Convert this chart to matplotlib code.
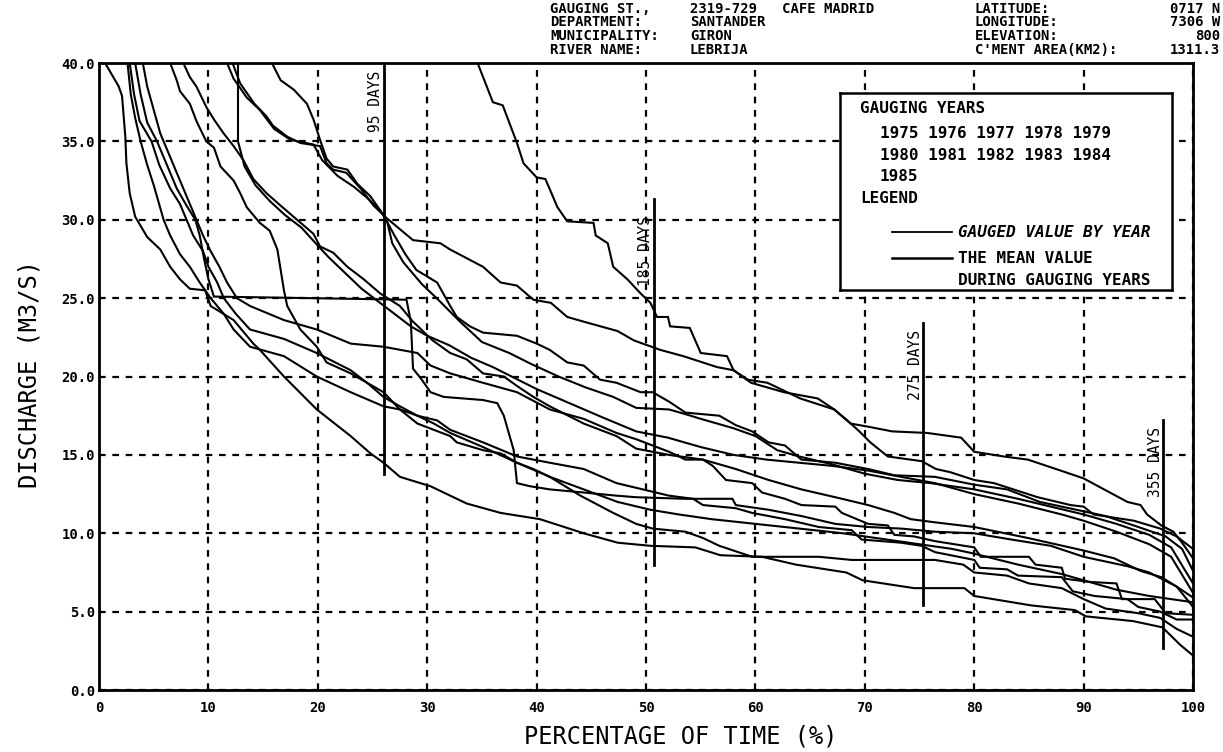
import matplotlib
matplotlib.use("Agg")
import matplotlib.pyplot as plt

# flow duration curves: (percentage of time, discharge m3/s)
curve_a = [(34.6, 40.0), (36.0, 37.5), (36.9, 37.3), (38.2, 34.9), (38.8, 33.6), (40.0, 32.7), (40.8, 32.6),
           (41.9, 30.8), (42.8, 29.9), (45.2, 29.8), (45.4, 29.0), (46.5, 28.5), (47.0, 27.0), (48.3, 26.2),
           (49.5, 25.3), (50.4, 24.7), (51.0, 23.8), (52.0, 23.8), (52.2, 23.2), (54.0, 23.1), (55.0, 21.5),
           (57.4, 21.3), (58.0, 20.4), (59.3, 19.8), (61.1, 19.6), (62.6, 19.1), (64.1, 18.6), (67.2, 17.9),
           (68.7, 17.0), (70.3, 16.8), (72.5, 16.5), (75.7, 16.4), (78.8, 16.1), (80.0, 15.2), (82.7, 14.9),
           (84.9, 14.7), (87.9, 14.0), (90.0, 13.5), (91.6, 12.9), (94.0, 12.0), (95.2, 11.8), (95.8, 11.2),
           (97.1, 10.5), (98.2, 10.1), (99.1, 9.3), (100.0, 8.4)]
curve_b = [(12.2, 40.0), (12.9, 38.7), (14.2, 37.4), (15.3, 36.6), (15.9, 36.0), (17.2, 35.3), (18.4, 34.9),
           (20.2, 34.7), (20.8, 33.6), (21.4, 33.2), (22.6, 33.0), (23.9, 32.0), (25.1, 30.9), (26.3, 30.1),
           (27.5, 29.4), (28.7, 28.7), (31.2, 28.5), (32.1, 28.1), (35.1, 27.0), (36.7, 26.0), (38.2, 25.8),
           (39.7, 24.9), (41.3, 24.7), (42.8, 23.8), (44.3, 23.5), (47.4, 22.9), (48.9, 22.3), (51.3, 21.7),
           (53.4, 21.3), (56.5, 20.6), (58.0, 20.4), (59.6, 19.6), (62.6, 19.0), (65.7, 18.6), (67.2, 17.9),
           (68.4, 17.2), (69.5, 16.5), (70.5, 15.8), (72.1, 14.9), (75.2, 14.6), (76.5, 14.1), (77.8, 13.9),
           (80.0, 13.4), (81.8, 13.2), (85.8, 12.3), (88.8, 11.8), (90.0, 11.7), (90.9, 11.2), (94.6, 10.8),
           (97.0, 10.3), (98.5, 9.8), (100.0, 9.0)]
curve_c = [(11.7, 40.0), (12.3, 39.0), (13.5, 37.8), (14.7, 37.0), (16.0, 35.8), (17.5, 35.1), (19.6, 34.8),
           (20.4, 33.8), (21.8, 32.8), (23.3, 32.1), (24.5, 31.4), (25.7, 30.6), (26.3, 29.9), (27.0, 29.0),
           (28.0, 27.8), (29.0, 26.8), (30.9, 26.0), (32.1, 24.5), (32.7, 23.8), (33.9, 23.2), (35.1, 22.8),
           (38.2, 22.6), (40.0, 22.1), (41.2, 21.7), (42.8, 20.9), (44.3, 20.7), (45.8, 19.8), (47.3, 19.6),
           (49.5, 19.0), (50.6, 19.0), (52.1, 18.4), (53.6, 17.7), (56.7, 17.5), (58.2, 16.9), (59.7, 16.5),
           (61.2, 15.8), (62.7, 15.6), (64.2, 14.7), (67.3, 14.5), (70.3, 14.1), (72.7, 13.7), (76.4, 13.6),
           (80.0, 13.1), (83.0, 12.8), (86.0, 12.0), (90.0, 11.4), (92.0, 11.1), (95.0, 10.4), (97.5, 9.8),
           (99.0, 9.0), (100.0, 7.6)]
curve_d = [(15.8, 40.0), (16.6, 38.9), (17.8, 38.3), (19.0, 37.4), (19.6, 36.4), (20.2, 35.1), (20.8, 33.9),
           (21.4, 33.4), (22.7, 33.2), (23.6, 32.3), (24.8, 31.5), (25.7, 30.6), (26.3, 30.0), (26.8, 28.5),
           (27.8, 27.3), (29.5, 25.9), (31.0, 24.9), (33.0, 23.5), (35.0, 22.2), (37.5, 21.5), (39.5, 20.8),
           (42.0, 20.0), (44.5, 19.3), (47.0, 18.7), (49.1, 18.0), (52.1, 17.9), (53.6, 17.6), (55.0, 17.3),
           (58.0, 16.7), (60.0, 16.2), (62.0, 15.3), (64.0, 14.9), (67.0, 14.4), (70.0, 13.8), (73.0, 13.4),
           (76.0, 13.2), (78.0, 13.0), (80.0, 12.8), (84.0, 12.2), (87.0, 11.7), (90.0, 11.2), (93.0, 10.6),
           (96.0, 9.9), (98.0, 9.1), (100.0, 6.8)]
curve_e = [(6.5, 40.0), (7.1, 38.9), (7.4, 38.2), (8.3, 37.4), (8.9, 36.3), (9.8, 35.0), (10.5, 34.6),
           (11.1, 33.4), (12.3, 32.5), (12.9, 31.7), (13.5, 30.8), (14.7, 29.8), (15.6, 29.3), (16.3, 28.1),
           (16.6, 26.8), (16.9, 25.5), (17.2, 24.5), (18.4, 23.0), (19.9, 21.9), (20.8, 20.9), (23.0, 20.2),
           (24.5, 19.6), (26.0, 18.7), (27.5, 18.1), (29.1, 17.5), (30.6, 17.0), (32.1, 16.4), (35.1, 15.5),
           (38.2, 14.5), (41.2, 13.6), (44.3, 12.8), (47.4, 12.0), (50.4, 11.5), (53.0, 11.2), (56.0, 10.9),
           (60.0, 10.6), (64.0, 10.3), (68.0, 10.0), (72.0, 9.6), (75.0, 9.3), (78.0, 9.0), (80.0, 8.7),
           (84.0, 8.0), (88.0, 7.4), (90.0, 7.0), (93.0, 6.4), (96.0, 6.0), (98.0, 5.8), (100.0, 5.6)]
curve_f = [(4.0, 40.0), (4.4, 38.5), (5.0, 37.0), (5.6, 35.5), (6.2, 34.5), (7.1, 33.0), (8.0, 31.5),
           (8.9, 30.0), (9.5, 29.0), (10.2, 28.0), (11.0, 27.0), (11.7, 26.0), (12.6, 25.0), (13.8, 24.5),
           (16.9, 23.6), (19.9, 23.0), (23.0, 22.1), (26.0, 21.9), (29.1, 21.5), (30.3, 20.7), (32.1, 20.2),
           (35.1, 19.6), (38.2, 19.0), (41.2, 17.9), (44.3, 17.3), (47.3, 16.4), (49.1, 16.0), (52.1, 15.2),
           (53.6, 14.7), (55.2, 14.7), (56.1, 14.3), (57.3, 13.4), (59.7, 13.2), (60.6, 12.6), (62.7, 12.2),
           (64.2, 11.8), (67.3, 11.7), (67.9, 11.3), (70.3, 10.6), (72.1, 10.5), (72.7, 9.9), (74.5, 9.8),
           (76.4, 9.5), (80.0, 9.1), (80.6, 8.5), (85.0, 8.5), (85.6, 8.0), (88.0, 7.8), (88.3, 7.1),
           (90.5, 6.9), (93.0, 6.8), (93.5, 5.8), (96.5, 5.8), (97.5, 4.9), (100.0, 4.8)]
curve_g = [(7.7, 40.0), (8.3, 39.1), (8.9, 38.5), (9.8, 37.2), (10.5, 36.4), (11.4, 35.5), (12.3, 34.7),
           (13.2, 33.8), (14.1, 32.6), (15.3, 31.7), (16.6, 30.9), (18.1, 30.0), (19.6, 29.1), (20.2, 28.3),
           (21.4, 27.9), (22.7, 27.0), (24.2, 26.2), (25.7, 25.3), (27.5, 24.5), (28.7, 23.5), (30.5, 22.3),
           (32.1, 21.5), (33.6, 21.1), (35.1, 20.2), (37.0, 20.0), (38.2, 19.4), (39.7, 18.7), (41.2, 18.1),
           (44.3, 17.0), (47.3, 16.2), (49.1, 15.4), (52.1, 15.0), (55.2, 14.7), (58.2, 14.1), (61.2, 13.4),
           (64.2, 12.8), (67.3, 12.3), (70.3, 11.8), (72.7, 11.3), (74.2, 10.9), (76.4, 10.7), (80.0, 10.4),
           (84.9, 9.7), (90.0, 8.9), (92.8, 8.4), (95.2, 7.6), (97.1, 7.2), (98.5, 6.6), (100.0, 5.9)]
curve_h = [(2.8, 40.0), (3.2, 38.0), (3.7, 36.3), (4.8, 35.0), (5.5, 33.5), (6.5, 32.0), (7.4, 31.0),
           (8.0, 30.0), (8.6, 29.0), (9.5, 28.0), (10.0, 27.0), (10.8, 26.0), (11.4, 25.0), (12.5, 24.0),
           (13.8, 23.0), (16.9, 22.4), (19.9, 21.5), (23.0, 20.4), (24.5, 19.6), (26.0, 19.0), (27.5, 17.9),
           (29.1, 17.5), (30.9, 17.2), (32.1, 16.6), (33.6, 16.2), (35.1, 15.8), (38.2, 14.9), (41.2, 14.5),
           (44.3, 14.1), (47.3, 13.2), (49.1, 12.9), (52.1, 12.4), (54.3, 12.2), (55.2, 11.8), (58.2, 11.6),
           (59.7, 11.3), (62.7, 10.9), (65.8, 10.4), (68.8, 10.2), (69.7, 9.6), (73.3, 9.4), (75.2, 9.2),
           (76.4, 8.8), (80.0, 8.3), (80.5, 7.8), (83.0, 7.7), (84.0, 7.3), (88.0, 7.2), (89.0, 6.3),
           (91.0, 6.0), (94.0, 5.8), (95.0, 5.3), (97.0, 5.0), (98.5, 4.5), (100.0, 4.5)]
curve_i = [(3.3, 40.0), (3.8, 38.0), (4.4, 36.2), (5.3, 35.0), (6.2, 33.5), (7.1, 32.0), (8.0, 30.9),
           (8.8, 30.0), (9.2, 29.0), (9.6, 27.5), (10.0, 26.2), (10.5, 25.1), (28.1, 24.9), (28.5, 23.5),
           (28.7, 20.5), (29.5, 19.8), (30.3, 19.0), (31.5, 18.7), (35.1, 18.5), (36.4, 18.3), (37.0, 17.5),
           (37.9, 15.3), (38.2, 13.2), (39.4, 13.0), (41.2, 12.8), (44.3, 12.6), (47.3, 12.4), (49.1, 12.3),
           (53.6, 12.2), (57.9, 12.2), (58.2, 11.8), (61.2, 11.5), (64.2, 11.1), (67.3, 10.6), (70.3, 10.4),
           (73.3, 10.3), (76.4, 10.1), (80.0, 10.0), (83.4, 9.6), (87.0, 9.2), (90.0, 8.5), (94.0, 7.9),
           (96.0, 7.5), (98.5, 6.6), (100.0, 5.3)]
curve_j = [(2.6, 40.0), (2.9, 38.0), (3.3, 36.5), (3.8, 35.0), (4.4, 33.5), (5.0, 32.2), (5.9, 30.0),
           (6.5, 29.0), (7.4, 27.8), (8.3, 27.0), (9.2, 26.0), (10.2, 25.0), (11.4, 24.0), (12.3, 23.0),
           (13.8, 21.9), (16.9, 21.3), (19.9, 20.0), (23.0, 19.0), (26.0, 18.1), (27.5, 17.9), (29.1, 17.0),
           (30.6, 16.6), (32.1, 16.2), (32.7, 15.8), (35.1, 15.3), (36.7, 15.1), (38.2, 14.5), (39.7, 14.1),
           (41.2, 13.6), (44.0, 12.4), (47.0, 11.3), (49.1, 10.6), (50.6, 10.3), (53.6, 10.1), (55.2, 9.7),
           (56.7, 9.2), (59.7, 8.5), (65.8, 8.5), (68.8, 8.3), (70.3, 8.3), (76.4, 8.3), (79.0, 8.0),
           (80.0, 7.5), (83.0, 7.3), (85.0, 6.8), (88.0, 6.5), (90.0, 5.8), (92.0, 5.2), (95.0, 4.9),
           (97.0, 4.6), (98.5, 3.9), (100.0, 3.4)]
curve_k = [(0.55, 40.0), (1.8, 38.5), (2.1, 37.9), (2.4, 35.3), (2.5, 33.6), (2.8, 31.7), (3.3, 30.2),
           (4.4, 28.9), (5.6, 28.1), (6.5, 27.0), (7.4, 26.2), (8.3, 25.6), (9.7, 25.5), (10.2, 24.5),
           (12.3, 23.6), (14.1, 22.1), (14.7, 21.7), (16.9, 20.0), (19.9, 17.9), (23.0, 16.2), (24.8, 15.1),
           (26.0, 14.5), (27.5, 13.6), (30.3, 13.0), (33.6, 11.9), (36.7, 11.3), (40.3, 10.9), (44.3, 10.0),
           (47.4, 9.4), (50.4, 9.2), (54.5, 9.1), (56.8, 8.6), (60.6, 8.5), (63.7, 8.0), (68.3, 7.5),
           (69.8, 7.0), (74.5, 6.5), (79.1, 6.5), (80.0, 6.0), (85.2, 5.4), (89.2, 5.1), (90.2, 4.7),
           (94.5, 4.4), (97.2, 4.0), (98.8, 2.9), (100.0, 2.2)]
curve_l = [(12.7, 40.0), (12.7, 35.0), (13.3, 33.4), (14.3, 32.2), (15.6, 31.2), (17.0, 30.3), (18.5, 29.5),
           (19.8, 28.5), (21.0, 27.6), (22.5, 26.6), (24.0, 25.6), (25.5, 24.8), (27.0, 24.0), (28.5, 23.2),
           (30.0, 22.6), (32.0, 22.0), (34.0, 21.2), (36.0, 20.6), (38.0, 19.9), (40.0, 19.2), (43.0, 18.3),
           (46.0, 17.4), (49.1, 16.5), (52.0, 16.1), (55.0, 15.5), (58.0, 15.0), (61.0, 14.7), (64.0, 14.5),
           (67.0, 14.3), (70.3, 14.0), (73.3, 13.6), (76.4, 13.2), (80.0, 12.5), (84.0, 11.9), (88.0, 11.2),
           (90.0, 10.8), (93.0, 10.1), (96.0, 9.3), (98.0, 8.5), (100.0, 6.2)]

curves = [curve_a, curve_b, curve_c, curve_d, curve_e, curve_f,
          curve_g, curve_h, curve_i, curve_j, curve_k, curve_l]

# day markers: days, top and bottom of the marker line, bottom of the label
days = [95, 185, 275, 355]
day_top = [40.0, 31.3, 23.4, 17.2]
day_bottom = [13.8, 8.0, 5.4, 2.7]
day_label_y = [35.6, 25.8, 18.5, 12.3]

years = ["1975 1976 1977 1978 1979", "1980 1981 1982 1983 1984", "1985"]

header_labels = ["GAUGING ST.,", "DEPARTMENT:", "MUNICIPALITY:", "RIVER NAME:"]
header_values = ["2319-729   CAFE MADRID", "SANTANDER", "GIRON", "LEBRIJA"]
site_labels = ["LATITUDE:", "LONGITUDE:", "ELEVATION:", "C'MENT AREA(KM2):"]
site_values = ["0717 N", "7306 W", "800", "1311.3"]

MONO = "DejaVu Sans Mono"

fig = plt.figure(figsize=(12.23, 7.52), dpi=100)
ax = fig.add_axes([0.081, 0.0824, 0.8945, 0.8338])

for c in curves:
    xs = [p[0] for p in c]
    ys = [p[1] for p in c]
    ax.plot(xs, ys, color="black", lw=1.5, zorder=3, solid_joinstyle="miter")

for d, top, bot, ly in zip(days, day_top, day_bottom, day_label_y):
    xp = d / 365 * 100
    ax.plot([xp, xp], [bot, top], color="black", lw=2.0, zorder=4)
    ax.text(xp - 0.05, ly, f"{d} DAYS", rotation=90, ha="right", va="bottom",
            family=MONO, fontsize=10.5, zorder=5)

ax.set_xlim(0, 100)
ax.set_ylim(0, 40)
ax.set_xticks(range(0, 101, 10))
ax.set_yticks([0, 5, 10, 15, 20, 25, 30, 35, 40])
ax.set_yticklabels([f"{v:.1f}" for v in range(0, 41, 5)])
ax.tick_params(axis="x", length=0, pad=8)
ax.tick_params(axis="y", length=0, pad=3)
for lab in ax.get_xticklabels() + ax.get_yticklabels():
    lab.set_family(MONO)
    lab.set_fontweight("bold")
    lab.set_fontsize(10)
ax.grid(True, color="black", lw=1.6, linestyle=(0, (3, 3)))
ax.set_axisbelow(True)
for s in ax.spines.values():
    s.set_linewidth(2.0)

fig.text(0.557, 0.021, "PERCENTAGE OF TIME (%)", family=MONO, fontsize=17, ha="center", va="center")
fig.text(0.0245, 0.503, "DISCHARGE (M3/S)", family=MONO, fontsize=17, rotation=90,
         ha="center", va="center")

# station header, one block per column so the rows sit tight like the plotter output
hdr = dict(family=MONO, fontweight="bold", fontsize=10, va="top", linespacing=0.98)
fig.text(0.450, 0.998, "\n".join(header_labels), ha="left", **hdr)
fig.text(0.564, 0.998, "\n".join(header_values), ha="left", **hdr)
fig.text(0.797, 0.998, "\n".join(site_labels), ha="left", **hdr)
fig.text(0.9975, 0.998, "\n".join(site_values), ha="right", multialignment="right", **hdr)

# legend box
lg = fig.add_axes([0.687, 0.614, 0.271, 0.262])
lg.set_xticks([])
lg.set_yticks([])
lg.set_xlim(0, 1)
lg.set_ylim(0, 1)
lg.set_facecolor("white")
for s in lg.spines.values():
    s.set_linewidth(1.8)
FS = 11.5
lg.text(0.06, 0.924, "GAUGING YEARS", family=MONO, fontweight="bold", fontsize=FS, va="center")
for row, v in zip(years, [0.797, 0.685, 0.579]):
    lg.text(0.12, v, row, family=MONO, fontweight="bold", fontsize=FS, va="center")
lg.text(0.06, 0.467, "LEGEND", family=MONO, fontweight="bold", fontsize=FS, va="center")
lg.plot([0.157, 0.337], [0.294, 0.294], color="black", lw=1.3)
lg.plot([0.157, 0.337], [0.162, 0.162], color="black", lw=1.8)
lg.text(0.355, 0.294, "GAUGED VALUE BY YEAR", family=MONO, fontweight="bold", fontsize=FS,
        va="center", style="italic")
lg.text(0.355, 0.162, "THE MEAN VALUE", family=MONO, fontweight="bold", fontsize=FS, va="center")
lg.text(0.355, 0.051, "DURING GAUGING YEARS", family=MONO, fontweight="bold", fontsize=FS, va="center")

fig.savefig("out.png", dpi=100)
